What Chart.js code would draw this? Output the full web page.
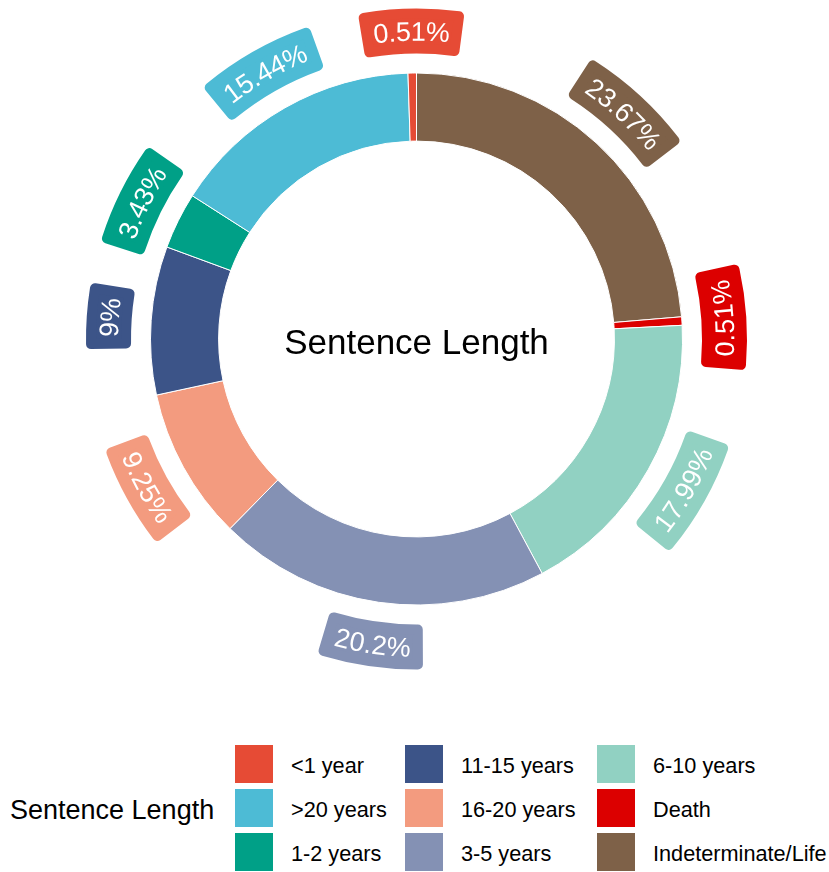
<!DOCTYPE html>
<html>
<head>
<meta charset="utf-8">
<title>Sentence Length</title>
<script src="https://cdn.jsdelivr.net/npm/chart.js@4.4.1/dist/chart.umd.min.js"></script>
<style>
  html, body { margin: 0; padding: 0; background: #fff; }
  body { width: 829px; height: 872px; position: relative; overflow: hidden;
         font-family: "Liberation Sans", Arial, sans-serif; }
  #wrap { position: absolute; left: 0; top: 0; width: 829px; height: 720px; }
  #legend-title { position: absolute; left: 10px; top: 794px; font-size: 27px; line-height: 32px; color: #000; }
  #legend { position: absolute; left: 235px; top: 745px; display: grid; grid-auto-flow: column;
            grid-template-rows: repeat(3, 38px); grid-template-columns: 170px 192px auto; row-gap: 6px; }
  .item { display: flex; align-items: center; }
  .swatch { width: 38px; height: 38px; margin-right: 18px; flex: none; }
  .item span { font-size: 21.7px; color: #000; position: relative; top: 2px; white-space: nowrap; }
</style>
</head>
<body>
<div id="wrap"><canvas id="chart"></canvas></div>
<div id="legend-title"></div>
<div id="legend"></div>
<script>
// categorias na ordem da legenda (ordem dos fatores)
const categories = ["<1 year", ">20 years", "1-2 years", "11-15 years", "16-20 years",
                    "3-5 years", "6-10 years", "Death", "Indeterminate/Life"];
// percentuais de cada categoria
const percents = [0.51, 15.44, 3.43, 9, 9.25, 20.2, 17.99, 0.51, 23.67];
// paleta (npg)
const colors = ["#E64B35", "#4DBBD5", "#00A087", "#3C5488", "#F39B7F",
                "#8491B4", "#91D1C2", "#DC0000", "#7E6148"];
const titleText = "Sentence Length";

// o anel vai no sentido horário a partir do topo na ordem inversa dos fatores
const ringLabels = categories.slice().reverse();
const ringValues = percents.slice().reverse();
const ringColors = colors.slice().reverse();

const FONT = '"Liberation Sans", Arial, sans-serif';

// rótulos curvos em caixas coloridas em volta do anel
const arcLabels = {
  id: "arcLabels",
  afterDatasetsDraw(chart) {
    const ctx = chart.ctx;
    const meta = chart.getDatasetMeta(0);
    const values = chart.data.datasets[0].data;
    const fills = chart.data.datasets[0].backgroundColor;
    ctx.save();
    ctx.font = "27px " + FONT;
    meta.data.forEach((arc, i) => {
      const cx = arc.x, cy = arc.y;
      const mid = (arc.startAngle + arc.endAngle) / 2;
      const r = arc.outerRadius + 42;
      const text = values[i] + "%";
      const textW = ctx.measureText(text).width;
      const padX = 12, hh = 22.5, cr = 5;
      const half = (textW / 2 + padX) / r;

      // caixa (faixa de anel com cantos arredondados)
      ctx.beginPath();
      ctx.arc(cx, cy, r + hh - cr, mid - half + cr / r, mid + half - cr / r);
      ctx.arc(cx, cy, r - hh + cr, mid + half - cr / r, mid - half + cr / r, true);
      ctx.closePath();
      ctx.fillStyle = fills[i];
      ctx.strokeStyle = fills[i];
      ctx.lineWidth = cr * 2;
      ctx.lineJoin = "round";
      ctx.fill();
      ctx.stroke();

      // vira o texto quando ficaria de cabeça para baixo
      let deg = ((mid + Math.PI / 2) * 180 / Math.PI) % 360;
      if (deg < 0) deg += 360;
      const flipped = deg > 75 && deg <= 255;

      // texto letra por letra ao longo do arco
      ctx.fillStyle = "#fff";
      ctx.textAlign = "center";
      ctx.textBaseline = "alphabetic";
      let s = -textW / 2;
      for (const ch of text) {
        const w = ctx.measureText(ch).width;
        const sc = s + w / 2;
        const ang = flipped ? mid - sc / r : mid + sc / r;
        ctx.save();
        ctx.translate(cx + r * Math.cos(ang), cy + r * Math.sin(ang));
        ctx.rotate(flipped ? ang - Math.PI / 2 : ang + Math.PI / 2);
        ctx.fillText(ch, 0, 9.7);
        ctx.restore();
        s += w;
      }
    });
    ctx.restore();
  },
  afterDraw(chart) {
    const arc = chart.getDatasetMeta(0).data[0];
    if (!arc) return;
    const ctx = chart.ctx;
    ctx.save();
    ctx.font = "35px " + FONT;
    ctx.fillStyle = "#000";
    ctx.textAlign = "center";
    ctx.textBaseline = "alphabetic";
    ctx.fillText(titleText, arc.x, arc.y + 15);
    ctx.restore();
  }
};

new Chart(document.getElementById("chart"), {
  type: "doughnut",
  data: {
    labels: ringLabels,
    datasets: [{
      data: ringValues,
      backgroundColor: ringColors,
      borderColor: "#fff",
      borderWidth: 1
    }]
  },
  options: {
    responsive: true,
    maintainAspectRatio: false,
    animation: false,
    cutout: "74.4%",
    layout: { padding: { top: 72.5, bottom: 114.5, left: 150, right: 146 } },
    plugins: {
      legend: { display: false },
      tooltip: { enabled: false }
    }
  },
  plugins: [arcLabels]
});

// legenda em HTML (3 linhas, preenchida por coluna)
document.getElementById("legend-title").textContent = titleText;
const legend = document.getElementById("legend");
categories.forEach((name, i) => {
  const item = document.createElement("div");
  item.className = "item";
  const sw = document.createElement("div");
  sw.className = "swatch";
  sw.style.background = colors[i];
  const label = document.createElement("span");
  label.textContent = name;
  item.appendChild(sw);
  item.appendChild(label);
  legend.appendChild(item);
});
</script>
</body>
</html>
